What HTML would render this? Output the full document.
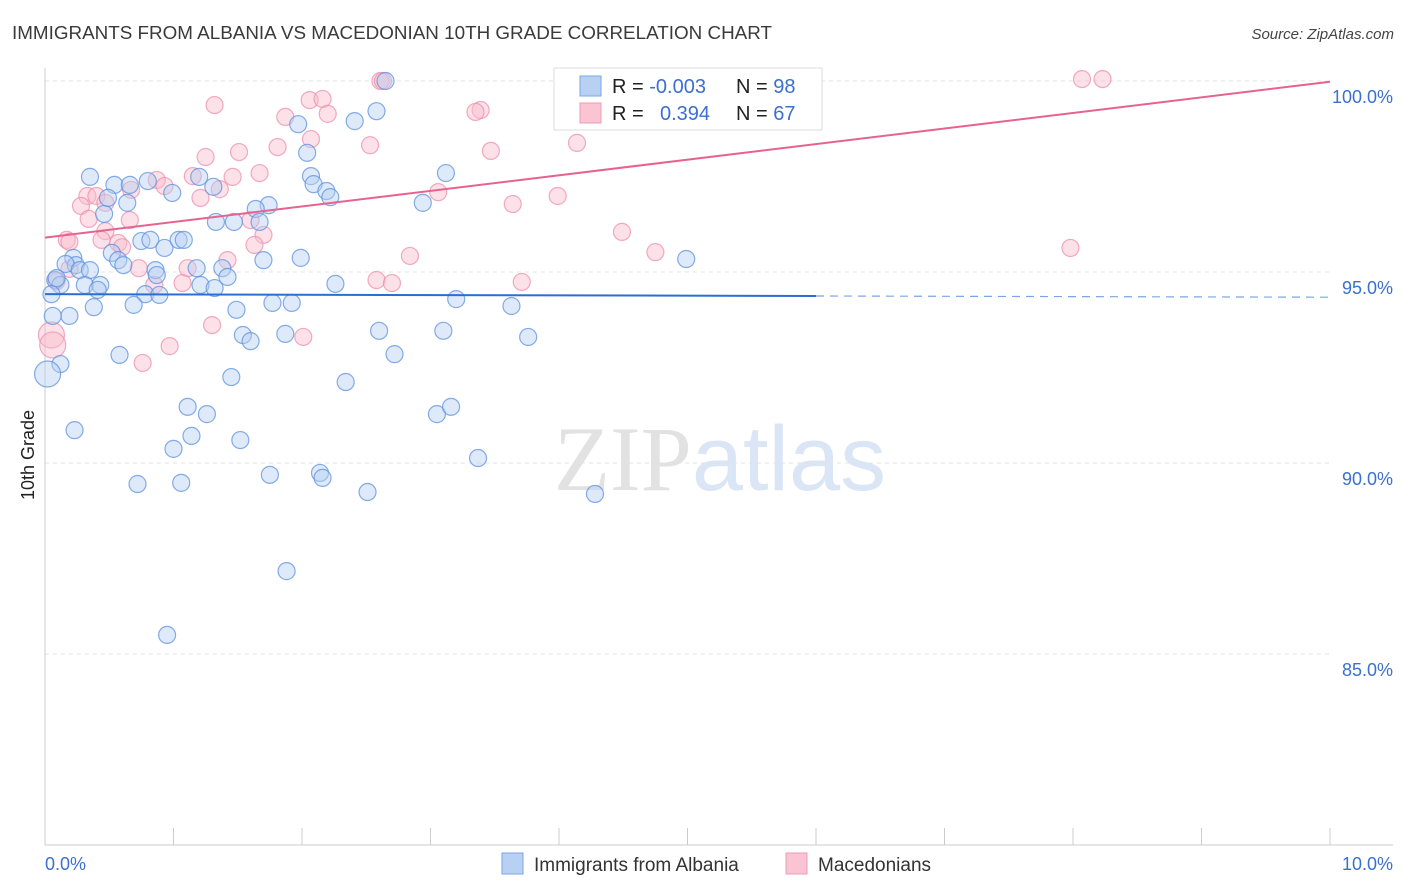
<!DOCTYPE html>
<html><head><meta charset="utf-8"><style>
body{margin:0;background:#fff;font-family:"Liberation Sans",sans-serif;}
svg{display:block}
</style></head><body>
<svg id="chart" width="1406" height="892" xmlns="http://www.w3.org/2000/svg" font-family="Liberation Sans, sans-serif">
<text x="12" y="39" font-size="18" fill="#3a3a3a" textLength="760" lengthAdjust="spacingAndGlyphs">IMMIGRANTS FROM ALBANIA VS MACEDONIAN 10TH GRADE CORRELATION CHART</text>
<text x="1394" y="39" font-size="15" fill="#444" text-anchor="end" font-style="italic">Source: ZipAtlas.com</text>
<text x="720" y="490" font-size="92" text-anchor="middle"><tspan fill="#e2e2e2" font-family="Liberation Serif, serif">ZIP</tspan><tspan fill="#dae6f5">atlas</tspan></text>
<g id="grid"></g>
<g id="axes"></g>
<g id="pts"></g>
<g id="lines"></g>
<text transform="translate(34,455) rotate(-90)" font-size="18" fill="#222" text-anchor="middle">10th Grade</text>
<g>
<rect x="554" y="68" width="268" height="62" fill="#fff" stroke="#ddd"/>
<rect x="580" y="76" width="21" height="20" fill="#b8d1f3" stroke="#7aa5e8"/>
<rect x="580" y="103" width="21" height="20" fill="#fac4d3" stroke="#f09ab4"/>
<text x="612" y="93" font-size="20" fill="#222">R = <tspan fill="#3a70d0">-0.003</tspan></text>
<text x="736" y="93" font-size="20" fill="#222">N = <tspan fill="#3a70d0">98</tspan></text>
<text x="612" y="120" font-size="20" fill="#222">R = </text><text x="660" y="120" font-size="20" fill="#3a70d0">0.394</text>
<text x="736" y="120" font-size="20" fill="#222">N = <tspan fill="#3a70d0">67</tspan></text>
</g>
<g>
<rect x="502" y="853" width="21" height="21" fill="#b8d1f3" stroke="#7aa5e8"/>
<text x="534" y="871" font-size="19" fill="#333">Immigrants from Albania</text>
<rect x="786" y="853" width="21" height="21" fill="#fac4d3" stroke="#f09ab4"/>
<text x="818" y="871" font-size="19" fill="#333">Macedonians</text>
</g>
</svg>
<script>
const yTicks=[100,95,90,85];
const xTickLabels=["0.0%","10.0%"];
const blueX=[0.35,0.54,0.66,0.80,0.99,1.20,1.31,2.04,1.97,2.41,2.58,2.65,2.07,2.09,2.19,2.22,1.74,1.64,1.47,1.67,1.33,3.12,2.94,0.46,0.49,0.64,0.22,0.24,0.16,0.27,0.35,0.08,0.12,0.31,0.43,0.41,0.52,0.57,0.61,0.75,0.82,0.93,1.04,1.08,0.86,0.87,1.18,1.21,1.32,1.38,1.42,1.70,1.99,2.26,0.78,0.89,0.69,0.38,0.19,0.06,0.05,0.09,0.12,0.02,0.23,0.58,1.45,1.49,1.54,1.60,1.77,1.92,1.87,2.34,2.60,2.72,3.10,3.20,3.63,3.76,3.05,3.16,3.37,1.11,1.26,1.14,1.00,1.52,1.75,2.14,2.16,2.51,0.72,1.06,1.88,0.95,4.28,4.99,5.20];
const blueY=[97.49,97.28,97.28,97.38,97.07,97.49,97.23,98.12,98.87,98.95,99.21,100.0,97.51,97.30,97.12,96.96,96.75,96.65,96.31,96.31,96.31,97.59,96.81,96.52,96.94,96.81,95.37,95.18,95.21,95.05,95.05,94.79,94.66,94.66,94.66,94.53,95.50,95.31,95.18,95.81,95.84,95.63,95.84,95.84,95.05,94.92,95.10,94.66,94.58,95.10,94.87,95.31,95.37,94.69,94.42,94.40,94.14,94.08,93.85,93.85,94.42,94.84,92.59,92.33,90.86,92.83,92.25,94.01,93.35,93.19,94.19,94.19,93.38,92.12,93.46,92.85,93.46,94.29,94.11,93.30,91.28,91.47,90.13,91.47,91.28,90.71,90.37,90.60,89.69,89.74,89.61,89.24,89.45,89.48,87.17,85.50,89.19,95.34,100.0];
const pinkX=[2.61,2.63,4.14,8.07,8.23,1.32,1.87,2.06,2.16,2.20,2.53,3.39,3.35,1.81,1.25,1.51,2.07,3.47,4.14,3.06,3.64,3.99,4.49,4.75,7.98,2.84,2.58,2.70,3.71,0.87,0.93,1.15,1.21,1.36,1.46,1.67,0.33,0.40,0.28,0.47,0.67,0.34,0.47,0.66,1.60,1.70,0.17,0.19,0.57,0.60,0.44,1.63,0.73,1.11,1.42,1.07,0.85,0.09,0.19,1.30,2.01,0.97,0.76,0.05,0.06];
const pinkY=[100.0,100.0,100.0,100.05,100.05,99.37,99.06,99.50,99.53,99.14,98.32,99.24,99.19,98.27,98.01,98.14,98.48,98.17,98.38,97.09,96.78,96.99,96.05,95.52,95.63,95.42,94.79,94.71,94.74,97.41,97.25,97.51,96.94,97.17,97.49,97.59,96.99,96.99,96.73,96.81,97.15,96.39,96.07,96.36,96.36,95.97,95.84,95.79,95.76,95.65,95.84,95.71,95.10,95.10,95.31,94.71,94.66,94.76,95.08,93.61,93.30,93.06,92.62,93.35,93.09];
const blueLine=[94.42,94.34];
const pinkLine=[95.9,99.98];
const X=v=>45+v*128.5;
const Y=v=>81+(100-v)*38.2;
const NS="http://www.w3.org/2000/svg";
function mk(tag,parent,attrs){const e=document.createElementNS(NS,tag);for(const k in attrs)e.setAttribute(k,attrs[k]);parent.appendChild(e);return e;}
const grid=document.getElementById('grid'),axes=document.getElementById('axes'),pts=document.getElementById('pts'),lines=document.getElementById('lines');
yTicks.forEach(t=>{
 const g=mk('line',grid,{x1:45,x2:1330,y1:Y(t),y2:Y(t),stroke:'#e3e3e3','stroke-dasharray':'4,4'});
 
 
 const l=mk('text',axes,{x:1393,y:Y(t)+22,'font-size':18,fill:'#3a70d0','text-anchor':'end'});
 l.textContent=t.toFixed(1)+'%';
 
 
});
const ya=mk('line',axes,{x1:45,x2:45,y1:68,y2:845,stroke:'#ccc'});


const xa=mk('line',axes,{x1:45,x2:1393,y1:845,y2:845,stroke:'#ccc'});


for(let i=0;i<=10;i++){
 const t=mk('line',axes,{x1:X(i),x2:X(i),y1:828,y2:845,stroke:'#ccc'});
 
 
}
xTickLabels.forEach((s,i)=>{
 const l=mk('text',axes,{x:i?1393:45,y:870,'font-size':18,fill:'#3a70d0','text-anchor':i?'end':'start'});
 l.textContent=s;
 
 
});
function dots(xs,ys,fill,stroke,name){
 xs.forEach((x,i)=>{
  const big=(x<0.1&&(ys[i]<92.5||(ys[i]>93&&ys[i]<93.4)));
  const c=mk('circle',pts,{cx:X(x),cy:Y(ys[i]),r:big?13:8.5,fill:fill,'fill-opacity':0.45,stroke:stroke,'stroke-opacity':0.75,'stroke-width':1.2});
  
  
 });
}
dots(pinkX,pinkY,'#f8bccd','#ee8fad','macedonian-point');
dots(blueX,blueY,'#b5cff2','#5d92de','albania-point');
const b1=mk('line',lines,{x1:X(0),x2:X(6),y1:Y(blueLine[0]),y2:Y(blueLine[0]+(blueLine[1]-blueLine[0])*0.6),stroke:'#2a6fd0','stroke-width':2});


const b2=mk('line',lines,{x1:X(6),x2:X(10),y1:Y(blueLine[0]+(blueLine[1]-blueLine[0])*0.6),y2:Y(blueLine[1]),stroke:'#7aa5e8','stroke-width':1.2,'stroke-dasharray':'8,6'});


const p1=mk('line',lines,{x1:X(0),x2:X(10),y1:Y(pinkLine[0]),y2:Y(pinkLine[1]),stroke:'#e8628f','stroke-width':2});


</script>
</body></html>
